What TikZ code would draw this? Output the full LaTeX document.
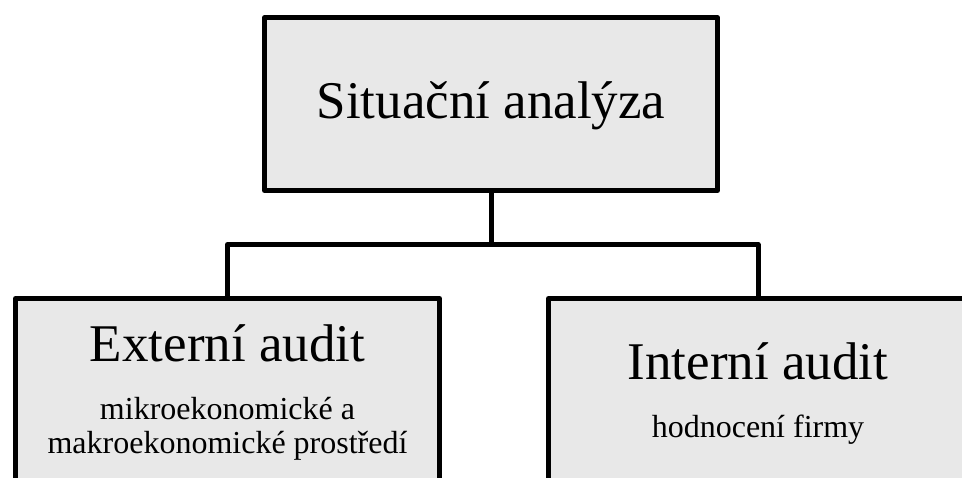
\documentclass[tikz,border=0pt]{standalone}
\usepackage{fontspec}
\setmainfont{Liberation Serif}
\definecolor{boxgray}{RGB}{232,232,232}
\begin{document}
\begin{tikzpicture}[x=1pt,y=-1pt,
  box/.style={draw=black, fill=boxgray, line width=5pt, line join=round, inner sep=0pt},
  conn/.style={draw=black, line width=5pt, line join=round},
  title/.style={anchor=base, inner sep=0pt, font=\fontsize{53}{60}\selectfont},
  sub/.style={anchor=base, inner sep=0pt, font=\fontsize{32}{34}\selectfont}]
\useasboundingbox (0,0) rectangle (962,477);
\clip (0,0) rectangle (962,477);
% boxes
\node[box, minimum width=453pt, minimum height=172.7pt] (top) at (491,104.1) {};
\node[box, minimum width=424pt, minimum height=261.5pt] (ext) at (227.5,429.25) {};
\node[box, minimum width=419pt, minimum height=261.5pt] (int) at (758,429.25) {};
% connectors
\coordinate (j) at (491,244.5);
\draw[conn] (top.south) -- (j);
\draw[conn] (ext.north) |- (j) -| (int.north);
% texts
\node[title] (ttop) at (491,118) {Situační analýza};
\node[title] (text) at (227.5,361) {Externí audit};
\node[sub] (sext1) at (227.5,419) {mikroekonomické a};
\node[sub] (sext2) at (227.5,453) {makroekonomické prostředí};
\node[title] (tint) at (758,379) {Interní audit};
\node[sub] (sint) at (758,437) {hodnocení firmy};
\end{tikzpicture}
\end{document}
